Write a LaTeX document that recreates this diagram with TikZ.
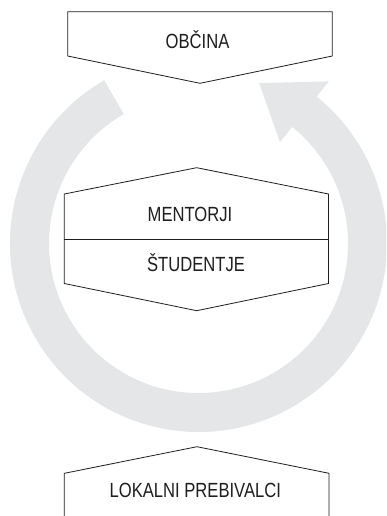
\documentclass[tikz,border=0pt]{standalone}
\usepackage{fontspec}
\setmainfont{Liberation Sans}[FakeStretch=0.81]
\usetikzlibrary{calc}
\definecolor{ringgray}{RGB}{229,230,232}
\definecolor{ink}{RGB}{30,30,30}
\tikzset{
  boxline/.style={draw=ink, line width=0.8pt, line join=miter, fill=white},
  label/.style={anchor=base, inner sep=0pt, text=ink, font=\fontsize{20.5}{24}\selectfont}
}
\begin{document}
\begin{tikzpicture}[x=1pt,y=-1pt]
\useasboundingbox (0,0) rectangle (386,516);
\clip (0,0) rectangle (386,516);
% ring arrow
\coordinate (C) at (198.5,243.5);
\fill[ringgray] (C) ++(-120:188.5) arc[start angle=-120, end angle=-411.2, radius=188.5]
  -- ($(C)+(-51.2:208)$) -- ($(C)+(-69.3:171.5)$) -- ($(C)+(-51.2:130)$)
  -- ($(C)+(-51.2:149.5)$) arc[start angle=-411.2, end angle=-120, radius=149.5] -- cycle;
% top box
\draw[boxline] (67.7,11.7) -- (332.3,11.7) -- (332.3,56) -- (200,83.3) -- (67.7,56) -- cycle;
\node[label] (obcina) at (197.5,48.8) {OBČINA};
% middle hexagon
\draw[boxline] (196.7,167.7) -- (328.5,194) -- (328.5,283.5) -- (196.7,310.7) -- (64.3,283.5) -- (64.3,194) -- cycle;
\draw[boxline] (64.3,239.5) -- (328.5,239.5);
\node[label] (mentorji) at (190,221.7) {MENTORJI};
\node[label] (studentje) at (196,271.7) {ŠTUDENTJE};
% bottom box
\draw[boxline] (64.3,530) -- (64.3,473.3) -- (197,446.7) -- (329,473.3) -- (329,530);
\node[label] (lokalni) at (195.3,497.3) {LOKALNI PREBIVALCI};
\end{tikzpicture}
\end{document}
